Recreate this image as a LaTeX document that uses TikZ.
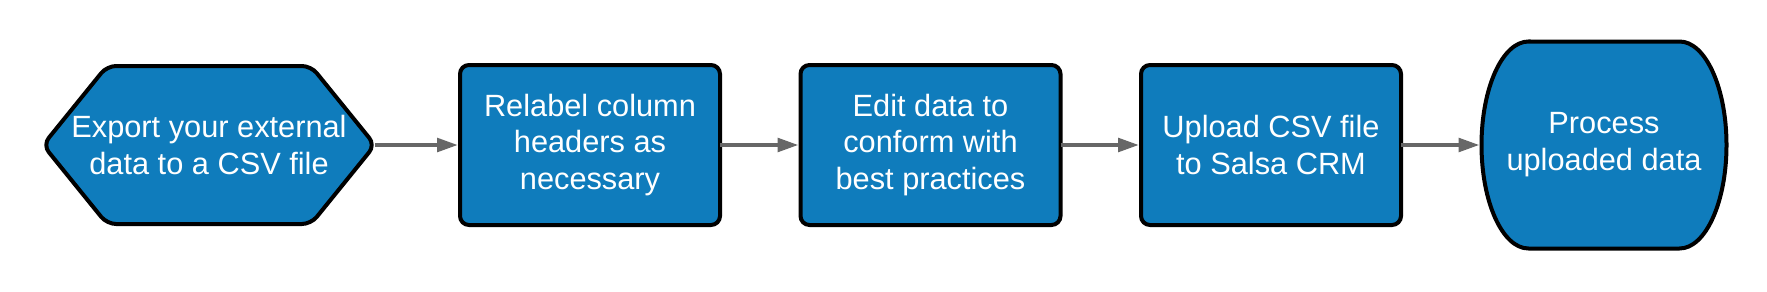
\documentclass[tikz,border=0pt]{standalone}
\usepackage{fontspec}
\setmainfont{Liberation Sans}
\usetikzlibrary{arrows.meta, positioning, calc, backgrounds}
\definecolor{boxfill}{HTML}{0F7CBC}
\definecolor{flowgray}{HTML}{676767}
\tikzset{
    steptext/.style={
        rectangle, inner sep=0pt, outer sep=0pt, text=white, align=center,
        font=\fontsize{17.5}{21}\selectfont,
        minimum width=5.2cm, minimum height=3.2cm
    },
    stepbox/.style={
        steptext, rounded corners=0.18cm, draw=black, fill=boxfill,
        line width=0.08cm
    },
    outline/.style={
        draw=black, fill=boxfill, line width=0.08cm
    },
    flow/.style={
        -{Triangle[length=0.42cm, width=0.27cm]}, line width=0.08cm,
        draw=flowgray, shorten >=0.04cm
    }
}
\begin{document}
\begin{tikzpicture}[node distance=1.61cm]
    \useasboundingbox (0,0) rectangle (35.34,5.82);

    \node[steptext, minimum width=6.64cm, minimum height=3.16cm] (n1) at (4.18,2.92) {Export your external\\data to a CSV file};
    \node[stepbox, right=1.7cm of n1] (n2) {Relabel column\\headers as\\necessary};
    \node[stepbox, right=of n2] (n3) {Edit data to\\conform with\\best practices};
    \node[stepbox, right=of n3] (n4) {Upload CSV file\\to Salsa CRM};
    \node[steptext, right=of n4, minimum width=4.9cm, minimum height=4.14cm] (n5) {Process\\uploaded data};

    \begin{scope}[on background layer]
        % start shape
        \draw[outline, rounded corners=0.18cm] (n1.west) -- ($(n1.north west)+(1.28,0)$) -- ($(n1.north east)+(-1.28,0)$)
            -- (n1.east) -- ($(n1.south east)+(-1.28,0)$) -- ($(n1.south west)+(1.28,0)$) -- cycle;
        % end shape
        \draw[outline] ($(n5.north west)+(0.94,0)$) -- ($(n5.north east)+(-0.94,0)$)
            arc[start angle=90, end angle=-90, x radius=0.94cm, y radius=2.07cm]
            -- ($(n5.south west)+(0.94,0)$)
            arc[start angle=270, end angle=90, x radius=0.94cm, y radius=2.07cm] -- cycle;
    \end{scope}

    \draw[flow] (n1) -- (n2);
    \draw[flow] (n2) -- (n3);
    \draw[flow] (n3) -- (n4);
    \draw[flow] (n4) -- (n5);
\end{tikzpicture}
\end{document}
